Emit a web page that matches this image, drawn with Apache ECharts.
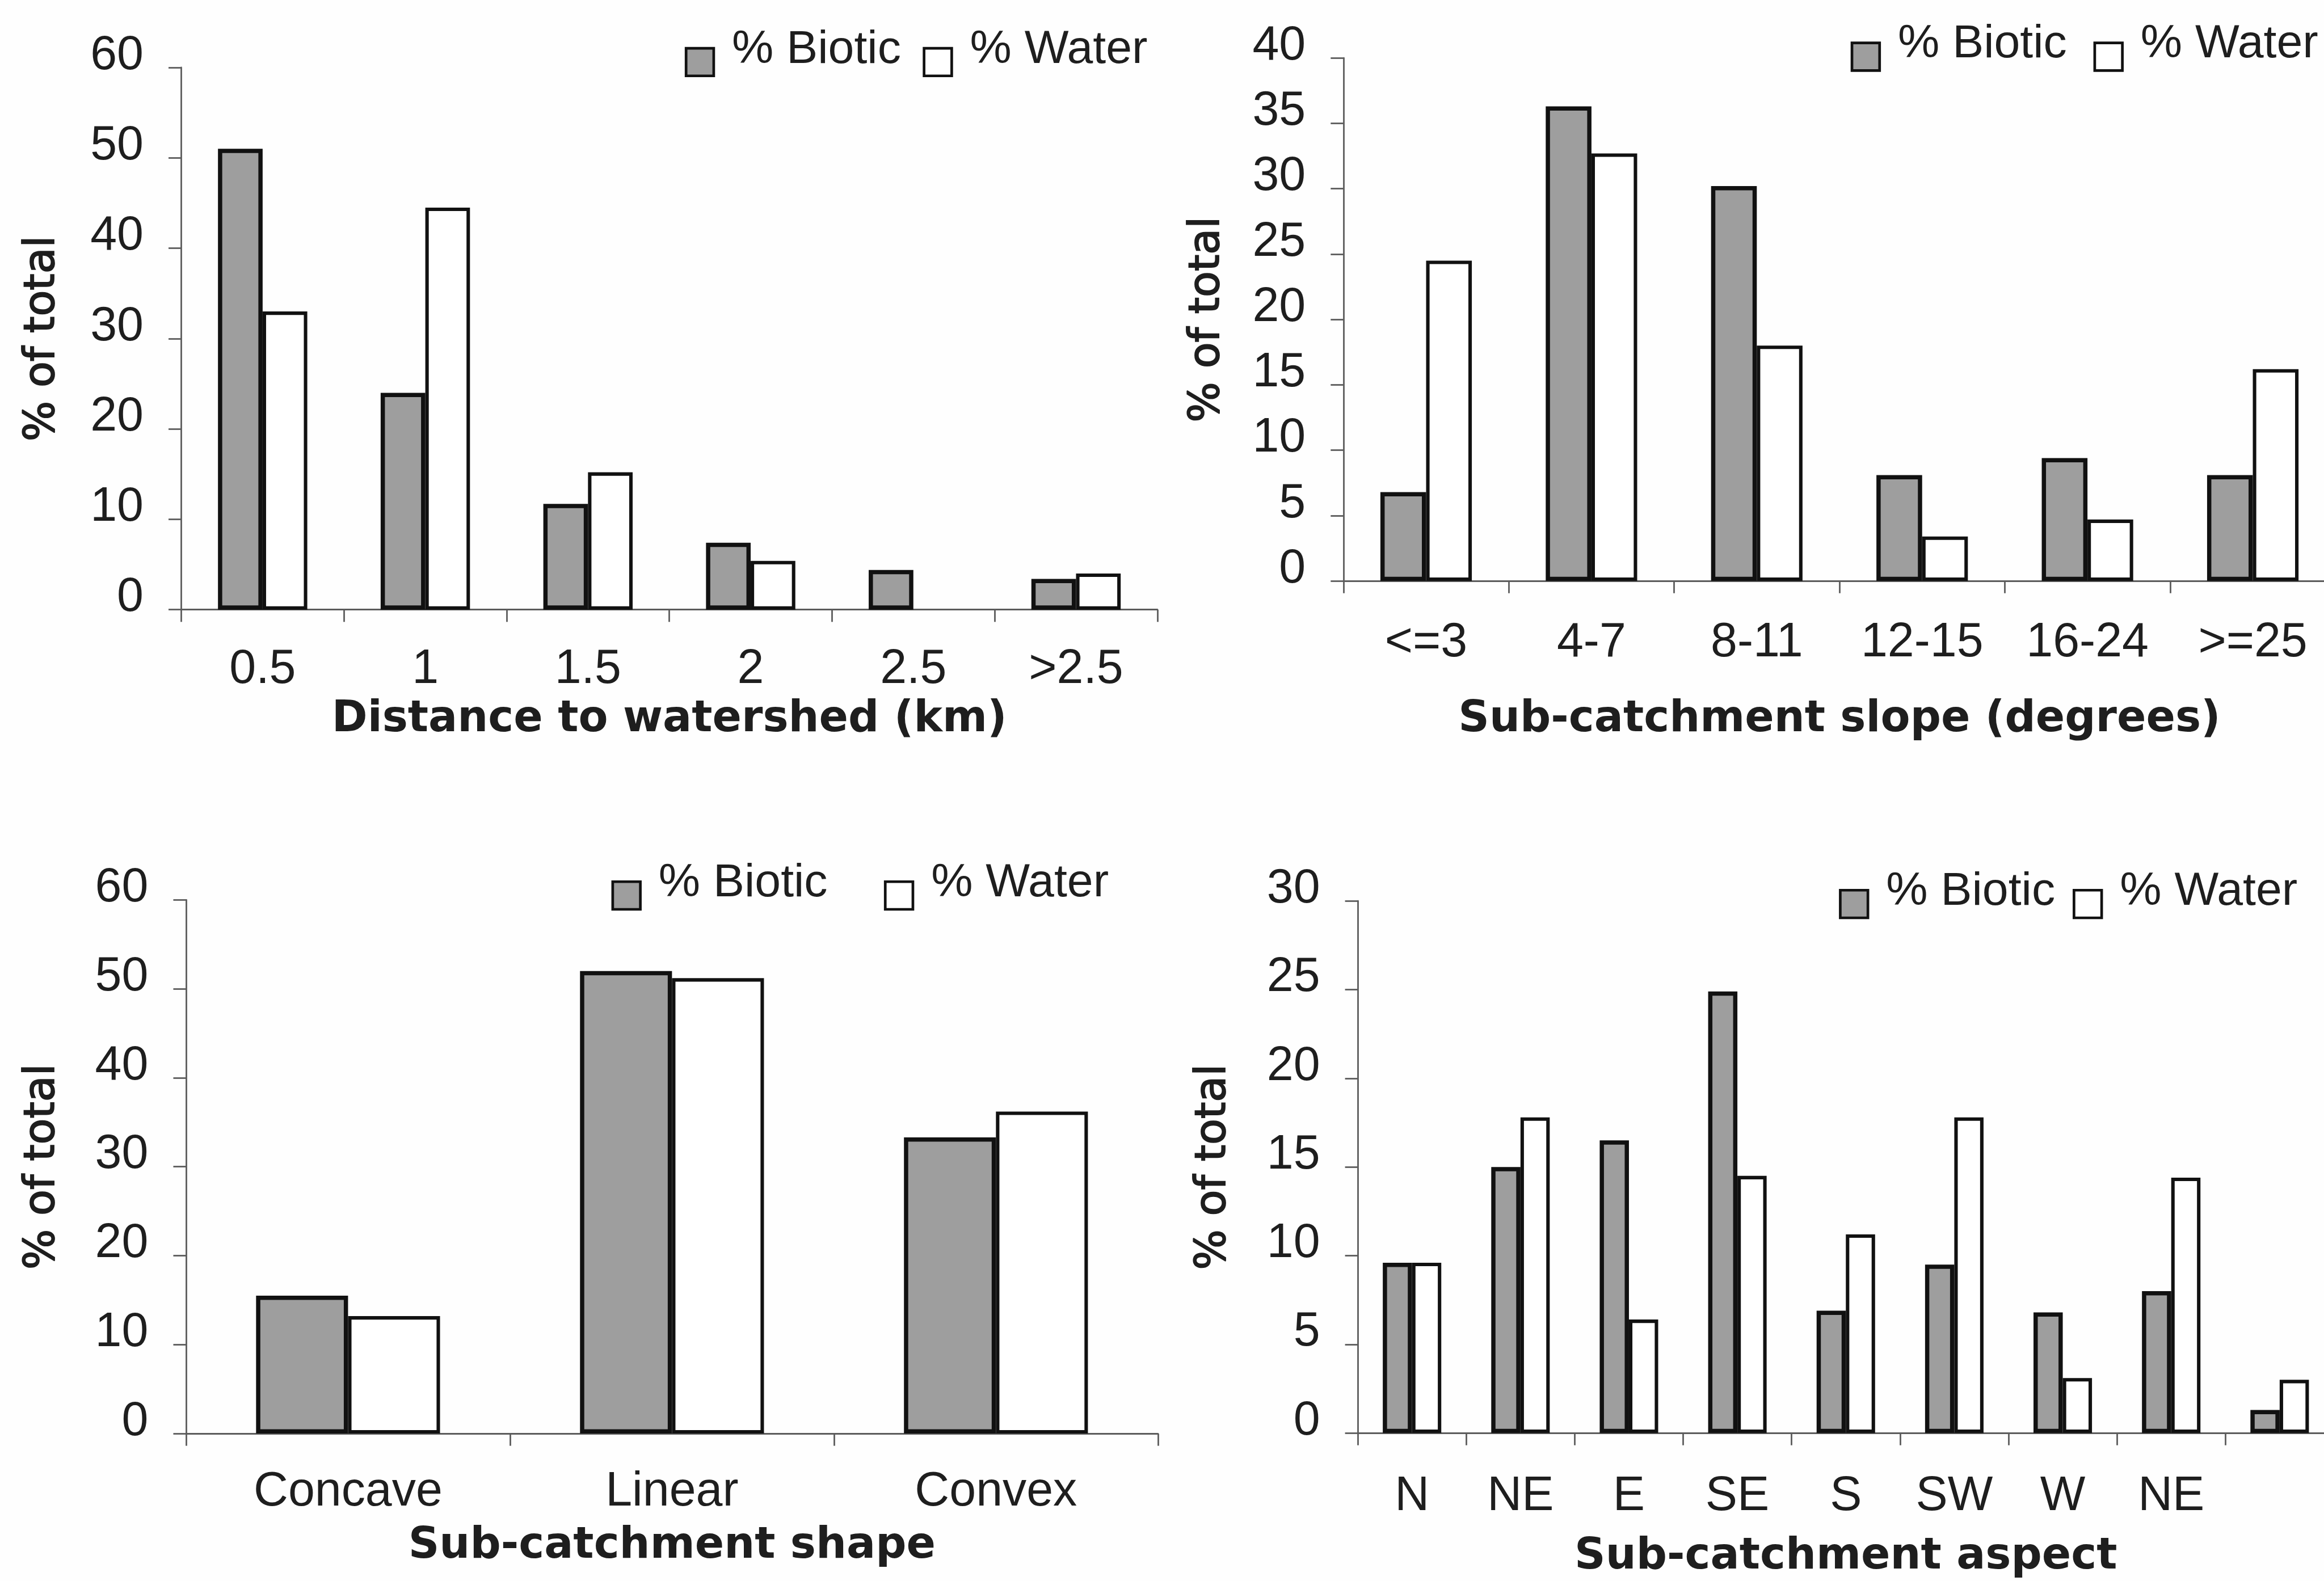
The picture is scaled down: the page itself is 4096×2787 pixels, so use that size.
<!DOCTYPE html>
<html>
<head>
<meta charset="utf-8">
<script src="https://cdn.jsdelivr.net/npm/echarts@6/dist/echarts.min.js"></script>
<style>
  html, body { margin: 0; padding: 0; background: #ffffff; }
  #chart { width: 4096px; height: 2787px; }
</style>
</head>
<body>
<div id="chart"></div>
<script>
// ---- data: share of biotic / water sampling points per terrain class ----
const distanceCategories = ['0.5', '1', '1.5', '2', '2.5', '>2.5'];
const distanceBiotic = [51.0, 24.0, 11.7, 7.4, 4.4, 3.4];
const distanceWater  = [33.0, 44.5, 15.2, 5.4, null, 4.0];

const slopeCategories = ['<=3', '4-7', '8-11', '12-15', '16-24', '>=25'];
const slopeBiotic = [6.8, 36.3, 30.2, 8.1, 9.4, 8.1];
const slopeWater  = [24.5, 32.7, 18.0, 3.4, 4.7, 16.2];

const shapeCategories = ['Concave', 'Linear', 'Convex'];
const shapeBiotic = [15.5, 52.0, 33.3];
const shapeWater  = [13.2, 51.2, 36.2];

const aspectCategories = ['N', 'NE', 'E', 'SE', 'S', 'SW', 'W', 'NE', ''];
const aspectBiotic = [9.6, 15.0, 16.5, 24.9, 6.9, 9.5, 6.8, 8.0, 1.3];
const aspectWater  = [9.6, 17.8, 6.4, 14.5, 11.2, 17.8, 3.1, 14.4, 3.0];

const seriesNames = ['% Biotic', '% Water'];
const yAxisName = '% of total';

// ---- layout (design units, scaled to the canvas) ----
const S = 0.937;
const px = v => v * S;

const LABEL_FONT = "'Liberation Sans', Arial, sans-serif";
const TITLE_FONT = "'DejaVu Sans', Verdana, sans-serif";
const INK = '#1e1e1e';
const AXIS = '#5c5c5c';

const panels = [
  { cats: distanceCategories, biotic: distanceBiotic, water: distanceWater, yMax: 60, yStep: 10,
    xName: 'Distance to watershed (km)',
    box: { left: 341, top: 127, width: 1836, height: 1020 },
    barWidth: 84, labelMargin: 68, xNameGap: 167, yNameGap: 220,
    legend: { left: 1288, iconY: 116, gap: 41 } },
  { cats: slopeCategories, biotic: slopeBiotic, water: slopeWater, yMax: 40, yStep: 5,
    xName: 'Sub-catchment slope (degrees)',
    box: { left: 2527, top: 109, width: 1866, height: 984 },
    barWidth: 86, labelMargin: 72, xNameGap: 221, yNameGap: 215,
    legend: { left: 3481, iconY: 106, gap: 50 } },
  { cats: shapeCategories, biotic: shapeBiotic, water: shapeWater, yMax: 60, yStep: 10,
    xName: 'Sub-catchment shape',
    box: { left: 350, top: 1693, width: 1828, height: 1004 },
    barWidth: 173, labelMargin: 66, xNameGap: 172, yNameGap: 229,
    legend: { left: 1150, iconY: 1684, gap: 106 } },
  { cats: aspectCategories, biotic: aspectBiotic, water: aspectWater, yMax: 30, yStep: 5,
    xName: 'Sub-catchment aspect',
    box: { left: 2554, top: 1695, width: 1836, height: 1001 },
    barWidth: 55, labelMargin: 75, xNameGap: 193, yNameGap: 231,
    legend: { left: 3459, iconY: 1700, gap: 33 } }
];

const grids = [], xAxes = [], yAxes = [], series = [], legends = [];

panels.forEach((p, i) => {
  grids.push({
    left: px(p.box.left), top: px(p.box.top),
    width: px(p.box.width), height: px(p.box.height),
    containLabel: false, outerBoundsMode: 'none'
  });

  xAxes.push({
    gridIndex: i, type: 'category', data: p.cats,
    axisLine: { show: true, lineStyle: { color: AXIS, width: px(3) } },
    axisTick: { show: true, length: px(23), alignWithLabel: false, lineStyle: { color: AXIS, width: px(3) } },
    axisLabel: { interval: 0, margin: px(p.labelMargin), color: INK,
                 fontFamily: LABEL_FONT, fontSize: px(90) },
    splitLine: { show: false },
    name: p.xName, nameLocation: 'middle', nameGap: px(p.xNameGap),
    nameTextStyle: { fontFamily: TITLE_FONT, fontWeight: 'bold', fontSize: px(81), color: INK }
  });

  // tick values sit a little above their tick marks
  yAxes.push({
    gridIndex: i, type: 'value', min: 0, max: p.yMax, interval: p.yStep,
    axisLine: { show: true, lineStyle: { color: AXIS, width: px(3) } },
    axisTick: { show: true, length: px(24), lineStyle: { color: AXIS, width: px(3) } },
    axisLabel: { margin: px(71), color: INK, fontFamily: LABEL_FONT, fontSize: px(90),
                 verticalAlign: 'bottom', lineHeight: px(44) },
    splitLine: { show: false },
    name: yAxisName, nameLocation: 'middle', nameRotate: 90, nameGap: px(p.yNameGap),
    nameTextStyle: { fontFamily: TITLE_FONT, fontSize: px(80), color: INK,
                     textBorderColor: INK, textBorderWidth: px(2) }
  });

  series.push({
    type: 'bar', name: seriesNames[0], xAxisIndex: i, yAxisIndex: i,
    data: p.biotic, barWidth: px(p.barWidth), barGap: '0%',
    itemStyle: { color: '#9e9e9e', borderColor: '#111111', borderWidth: px(8) }
  });
  series.push({
    type: 'bar', name: seriesNames[1], xAxisIndex: i, yAxisIndex: i,
    data: p.water, barWidth: px(p.barWidth), barGap: '0%',
    itemStyle: { color: '#ffffff', borderColor: '#111111', borderWidth: px(6.5) }
  });

  legends.push({
    data: seriesNames, icon: 'rect', orient: 'horizontal', padding: 0,
    left: px(p.legend.left), top: px(p.legend.iconY - 66),
    itemWidth: px(52), itemHeight: px(52), itemGap: px(p.legend.gap),
    itemStyle: { borderWidth: px(5), borderColor: '#111111' },
    formatter: '{t|{name}}',
    textStyle: {
      rich: {
        t: { fontFamily: LABEL_FONT, fontSize: px(88), color: INK,
             padding: [0, 0, px(46), px(29)] }
      }
    },
    selectedMode: false
  });
});

const chart = echarts.init(document.getElementById('chart'), null, { renderer: 'canvas' });
chart.setOption({
  backgroundColor: '#fefefe',
  animation: false,
  grid: grids, xAxis: xAxes, yAxis: yAxes, series: series, legend: legends
});
</script>
</body>
</html>
